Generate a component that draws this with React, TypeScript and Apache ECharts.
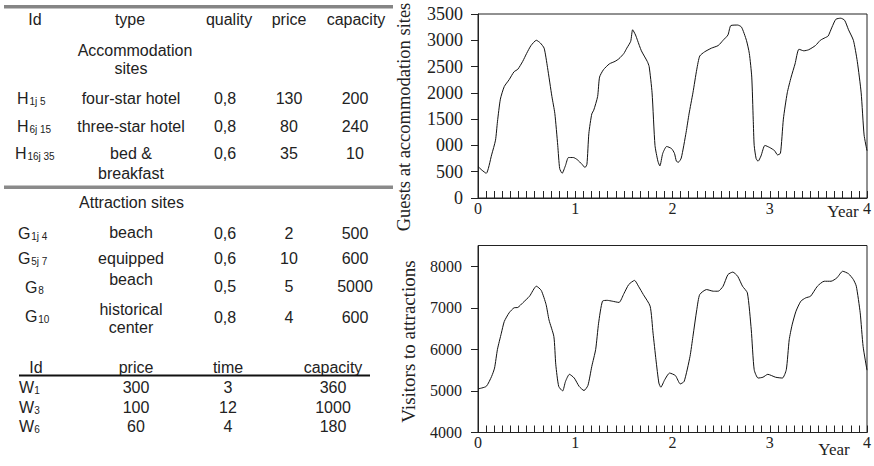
import React, { useEffect, useRef } from "react";
import * as echarts from "echarts";

const SANS = '"Liberation Sans", Arial, Helvetica, sans-serif';
const SERIF = '"Liberation Serif", "Times New Roman", Times, serif';

// ---------- chart data ----------
const guestsYear = [
  0, 0.04, 0.085, 0.14, 0.18, 0.2, 0.23, 0.27, 0.32, 0.37, 0.41, 0.46, 0.5, 0.545, 0.6, 0.64, 0.68, 0.715,
  0.76, 0.79, 0.82, 0.84, 0.865, 0.9, 0.93, 0.98, 1.02, 1.07, 1.1, 1.12, 1.14, 1.17, 1.19, 1.23, 1.25, 1.29,
  1.35, 1.41, 1.45, 1.5, 1.53, 1.57, 1.59, 1.62, 1.64, 1.68, 1.74, 1.76, 1.79, 1.82, 1.85, 1.87, 1.9, 1.94,
  1.99, 2.02, 2.04, 2.06, 2.09, 2.14, 2.17, 2.21, 2.25, 2.28, 2.33, 2.4, 2.47, 2.52, 2.57, 2.6, 2.67, 2.71,
  2.76, 2.79, 2.815, 2.83, 2.84, 2.86, 2.88, 2.91, 2.95, 3.0, 3.05, 3.08, 3.11, 3.14, 3.18, 3.22, 3.26, 3.3,
  3.35, 3.4, 3.47, 3.52, 3.57, 3.6, 3.64, 3.68, 3.73, 3.77, 3.81, 3.86, 3.9, 3.94, 3.97, 4.0,
];
const guestsValue = [
  600, 530, 470, 820, 1100, 1450, 1880, 2120, 2250, 2400, 2450, 2600, 2750, 2900, 3000, 2950, 2850, 2480,
  1930, 1610, 1000, 560, 470, 620, 770, 770, 730, 640, 580, 640, 1230, 1600, 1670, 1930, 2300, 2440,
  2550, 2600, 2650, 2750, 2850, 2980, 3200, 3100, 3000, 2800, 2600, 2500, 2000, 1000, 700, 610, 850, 980,
  940, 850, 700, 680, 760, 1250, 1600, 2000, 2450, 2700, 2780, 2850, 2900, 3000, 3100, 3280, 3290, 3250,
  3000, 2750, 2300, 1500, 1000, 750, 700, 800, 1000, 960, 900, 820, 850, 1500, 2000, 2300, 2550, 2830,
  2800, 2820, 2900, 3000, 3050, 3080, 3250, 3400, 3420, 3380, 3200, 3000, 2600, 2000, 1200, 900,
];

const visitorsYear = [
  0, 0.085, 0.14, 0.17, 0.2, 0.24, 0.27, 0.32, 0.37, 0.41, 0.46, 0.53, 0.6, 0.65, 0.7, 0.73, 0.78, 0.8,
  0.83, 0.87, 0.9, 0.94, 0.99, 1.04, 1.09, 1.13, 1.17, 1.21, 1.24, 1.28, 1.33, 1.38, 1.45, 1.5, 1.55, 1.61,
  1.65, 1.7, 1.77, 1.8, 1.83, 1.86, 1.88, 1.92, 1.97, 2.03, 2.08, 2.12, 2.18, 2.21, 2.25, 2.28, 2.35, 2.42,
  2.47, 2.52, 2.57, 2.62, 2.67, 2.72, 2.77, 2.81, 2.84, 2.88, 2.93, 2.98, 3.06, 3.13, 3.17, 3.2, 3.23, 3.27,
  3.32, 3.37, 3.42, 3.49, 3.56, 3.63, 3.69, 3.75, 3.81, 3.86, 3.89, 3.93, 3.96, 4.0,
];
const visitorsValue = [
  5050, 5110, 5350, 5550, 6000, 6390, 6670, 6880, 7000, 7010, 7120, 7280, 7520, 7420, 7080, 6710, 6310, 5630,
  5110, 5000, 5230, 5400, 5310, 5110, 5010, 5130, 5590, 6000, 6630, 7160, 7180, 7160, 7130, 7340, 7560, 7660,
  7520, 7320, 7040, 6390, 5750, 5190, 5090, 5270, 5430, 5370, 5170, 5230, 5830, 6310, 6960, 7320, 7440, 7400,
  7400, 7520, 7800, 7860, 7760, 7520, 7360, 6470, 5510, 5310, 5330, 5400, 5330, 5310, 5510, 6230, 6590, 6920,
  7160, 7240, 7280, 7520, 7640, 7640, 7720, 7880, 7820, 7680, 7520, 6880, 6070, 5500,
];

const guestsTickLabels = ["0", "500", "000", "1500", "2000", "2500", "3000", "3500"];
const visitorsTicks = [4000, 5000, 6000, 7000, 8000];
const yearTicks = [0, 1, 2, 3, 4];
const guestsTitle = "Guests at accommodation sites";
const visitorsTitle = "Visitors to attractions";
const xName = "Year";

// ---------- table data ----------
const tableHeader = ["Id", "type", "quality", "price", "capacity"];
const accomTitle = ["Accommodation", "sites"];
const accomIdMain = ["H", "H", "H"];
const accomIdSub = ["1j 5", "6j 15", "16j 35"];
const accomType = [["four-star hotel"], ["three-star hotel"], ["bed &", "breakfast"]];
const accomQuality = ["0,8", "0,8", "0,6"];
const accomPrice = ["130", "80", "35"];
const accomCapacity = ["200", "240", "10"];

const attrTitle = "Attraction sites";
const attrIdMain = ["G", "G", "G", "G"];
const attrIdSub = ["1j 4", "5j 7", "8", "10"];
const attrType = [["beach"], ["equipped", "beach"], [], ["historical", "center"]];
const attrQuality = ["0,6", "0,6", "0,5", "0,8"];
const attrPrice = ["2", "10", "5", "4"];
const attrCapacity = ["500", "600", "5000", "600"];

const resHeader = ["Id", "price", "time", "capacity"];
const resIdMain = ["W", "W", "W"];
const resIdSub = ["1", "3", "6"];
const resPrice = ["300", "100", "60"];
const resTime = ["3", "12", "4"];
const resCapacity = ["360", "1000", "180"];

// ---------- helpers ----------
const TXT = "#222";

function txt(str: string, x: number, y: number, size: number, family: string, align = "center", extra: any = {}) {
  return {
    type: "text",
    x,
    y,
    ...extra,
    style: {
      text: str,
      font: `${size}px ${family}`,
      fill: TXT,
      textAlign: align,
      textVerticalAlign: "middle",
    },
  };
}

const mainW: Record<string, number> = { H: 11.6, G: 12.4, W: 14.5 };

function idText(main: string, sub: string, x0: number, y: number) {
  return [
    txt(main, x0, y, 16, SANS, "left"),
    txt(sub, x0 + mainW[main] + 0.8, y + 3, 10, SANS, "left"),
  ];
}

function rule(x1: number, x2: number, yTop: number, color: string, h: number, extra: any = {}) {
  return { type: "rect", ...extra, shape: { x: x1, y: yTop, width: x2 - x1, height: h }, style: { fill: color } };
}

function buildGraphic() {
  const g: any[] = [];
  // top rule of the table
  g.push(rule(4, 393, 5.5, "#858585", 3, { z: 1000, zlevel: 1 }));

  const hx = [35, 130, 229, 289, 356];
  tableHeader.forEach((h, i) => g.push(txt(h, hx[i], 19.5, 16, SANS)));
  g.push(txt(accomTitle[0], 135, 50, 16, SANS));
  g.push(txt(accomTitle[1], 131, 68, 16, SANS));

  const colX = [131, 225, 289, 355];
  const accomY = [98.5, 126, 153.5];
  const accomIdX = [17, 17, 15];
  accomIdMain.forEach((m, i) => {
    g.push(...idText(m, accomIdSub[i], accomIdX[i], accomY[i]));
    accomType[i].forEach((t, k) => g.push(txt(t, colX[0], accomY[i] + k * 19.5, 16, SANS)));
    g.push(txt(accomQuality[i], colX[1], accomY[i], 16, SANS));
    g.push(txt(accomPrice[i], colX[2], accomY[i], 16, SANS));
    g.push(txt(accomCapacity[i], colX[3], accomY[i], 16, SANS));
  });

  g.push(rule(4, 393, 185.5, "#8a8a8a", 3.5));
  g.push(txt(attrTitle, 131.5, 202.5, 16, SANS));

  const attrIdY = [233, 258.8, 287.8, 316.5];
  const attrIdX = [18, 18, 25, 25];
  const attrValY = [233, 258.3, 286.5, 317.5];
  const attrTypeY = [[232.5], [258, 279], [], [309.7, 327.5]];
  attrIdMain.forEach((m, i) => {
    g.push(...idText(m, attrIdSub[i], attrIdX[i], attrIdY[i]));
    attrType[i].forEach((t, k) => g.push(txt(t, colX[0], attrTypeY[i][k], 16, SANS)));
    g.push(txt(attrQuality[i], colX[1], attrValY[i], 16, SANS));
    g.push(txt(attrPrice[i], colX[2], attrValY[i], 16, SANS));
    g.push(txt(attrCapacity[i], colX[3], attrValY[i], 16, SANS));
  });

  // bottom table
  const rx = [36, 136, 228, 333];
  resHeader.forEach((h, i) => g.push(txt(h, rx[i], 367.5, 16, SANS)));
  g.push(rule(19, 370, 374.5, "#111", 2));
  const resY = [387.5, 407, 426];
  resIdMain.forEach((m, i) => {
    g.push(...idText(m, resIdSub[i], 19, resY[i]));
    g.push(txt(resPrice[i], rx[1], resY[i], 16, SANS));
    g.push(txt(resTime[i], rx[2], resY[i], 16, SANS));
    g.push(txt(resCapacity[i], rx[3], resY[i], 16, SANS));
  });

  // axis titles
  g.push(txt(guestsTitle, 404, 117, 18.5, SERIF, "center", { rotation: Math.PI / 2 }));
  g.push(txt(visitorsTitle, 408, 341.5, 19, SERIF, "center", { rotation: Math.PI / 2 }));
  g.push(txt(xName, 843, 211, 17, SERIF));
  g.push(txt(xName, 834, 449, 17, SERIF));
  return g;
}

const AX = "#222";

function xAxisCfg(gridIndex: number) {
  return {
    gridIndex,
    type: "value",
    min: 0,
    max: 4,
    interval: 1,
    axisLine: { show: true, lineStyle: { color: AX, width: 1 } },
    axisTick: { show: true, inside: true, length: 7, lineStyle: { color: AX, width: 1 } },
    minorTick: { show: true, splitNumber: 12, length: 7, lineStyle: { color: AX, width: 1 } },
    axisLabel: {
      fontFamily: SERIF,
      fontSize: 16,
      color: TXT,
      margin: 2,
      customValues: yearTicks,
      formatter: (v: number) => String(v),
    },
    splitLine: { show: false },
    minorSplitLine: { show: false },
  };
}

export default function App() {
  const ref = useRef<HTMLDivElement>(null);
  useEffect(() => {
    if (!ref.current) return;
    const chart = echarts.init(ref.current, undefined, { renderer: "svg" });
    const option: any = {
      animation: false,
      backgroundColor: "#fff",
      grid: [
        { left: 478, top: 14, width: 392, height: 184, show: true, borderColor: AX, borderWidth: 1, backgroundColor: "transparent" },
        { left: 478, top: 245.5, width: 392, height: 187, show: true, borderColor: AX, borderWidth: 1, backgroundColor: "transparent" },
      ],
      xAxis: [xAxisCfg(0), xAxisCfg(1)],
      yAxis: [
        {
          gridIndex: 0,
          type: "value",
          min: 0,
          max: 3500,
          interval: 500,
          axisLine: { show: true, lineStyle: { color: AX, width: 1 } },
          axisTick: { show: true, inside: false, length: 7, lineStyle: { color: AX, width: 1 } },
          axisLabel: {
            fontFamily: SERIF,
            fontSize: 18,
            color: TXT,
            margin: 15,
            formatter: (v: number) => guestsTickLabels[Math.round(v / 500)],
          },
          splitLine: { show: false },
        },
        {
          gridIndex: 1,
          type: "value",
          min: 4000,
          max: 8500,
          interval: 1000,
          axisLine: { show: true, lineStyle: { color: AX, width: 1 } },
          axisTick: { show: true, inside: false, length: 7, customValues: visitorsTicks, lineStyle: { color: AX, width: 1 } },
          axisLabel: {
            fontFamily: SERIF,
            fontSize: 16,
            color: TXT,
            margin: 16,
            customValues: visitorsTicks,
            formatter: (v: number) => String(v),
          },
          splitLine: { show: false },
        },
      ],
      series: [
        {
          type: "line",
          xAxisIndex: 0,
          yAxisIndex: 0,
          data: guestsYear.map((t, i) => [t, guestsValue[i]]),
          showSymbol: false,
          smooth: 0.2,
          lineStyle: { color: "#111", width: 1 },
        },
        {
          type: "line",
          xAxisIndex: 1,
          yAxisIndex: 1,
          data: visitorsYear.map((t, i) => [t, visitorsValue[i]]),
          showSymbol: false,
          smooth: 0.2,
          lineStyle: { color: "#111", width: 1 },
        },
      ],
      graphic: buildGraphic(),
    };
    chart.setOption(option);
    return () => chart.dispose();
  }, []);
  return (
    <>
      <div
        ref={ref}
        style={{ position: "fixed", left: 0, top: 0, width: 874, height: 466, background: "#fff" }}
      />
      <div
        style={{
          position: "fixed",
          left: 4,
          top: 5,
          width: 389,
          height: 3,
          background: "#858585",
          pointerEvents: "none",
          zIndex: 5,
        }}
      />
    </>
  );
}
